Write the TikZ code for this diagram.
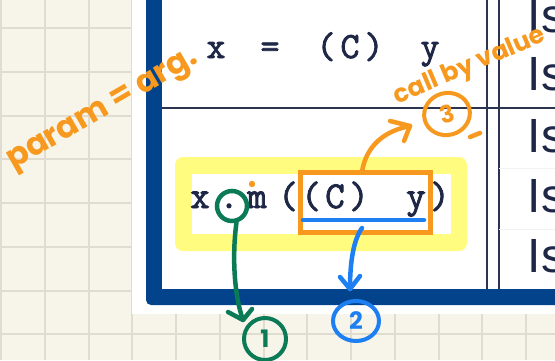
\documentclass[tikz,border=0pt]{standalone}
\usepackage{fontspec}
\usetikzlibrary{shapes.geometric,arrows.meta}
\newfontfamily\handfont{Poppins}
\newfontfamily\isfont{Liberation Sans}
\newfontfamily\codefont{Latin Modern Mono}[FakeBold=2.2]
\definecolor{paper}{HTML}{F7F5EA}
\definecolor{gridc}{HTML}{E0DDD0}
\definecolor{frameblue}{HTML}{03438C}
\definecolor{rulec}{HTML}{2B3550}
\definecolor{ink}{HTML}{1E2746}
\definecolor{hl}{HTML}{FFFC80}
\definecolor{orng}{HTML}{F7991F}
\definecolor{blu}{HTML}{1E7FF2}
\definecolor{grn}{HTML}{0B7A56}
\begin{document}
\begin{tikzpicture}[x=1pt,y=-1pt,
  codeA/.style={font=\codefont\fontsize{37}{37}\selectfont, text=ink, inner sep=0pt, anchor=base},
  codeB/.style={font=\codefont\fontsize{38}{38}\selectfont, text=ink, inner sep=0pt, anchor=base},
  iscell/.style={font=\isfont\fontsize{48}{48}\selectfont, text=ink, inner sep=0pt, anchor=base west},
  hand/.style={font=\handfont\bfseries\fontsize{#1}{#1}\selectfont, text=orng, inner sep=0pt},
  pen/.style={line width=4.5pt, line cap=round, line join=round},
  numring/.style={ellipse, draw=#1, line width=4pt, inner sep=0pt, text=#1,
    font=\handfont\bfseries\fontsize{24}{24}\selectfont}]
\useasboundingbox (0,0) rectangle (555,360);
\clip (0,0) rectangle (555,360);
% paper with grid
\fill[paper] (0,0) rectangle (555,360);
\foreach \i in {0,...,12} \draw[gridc, line width=2pt] (1+43.75*\i,0) -- ++(0,360);
\foreach \j in {0,...,8} \draw[gridc, line width=2pt] (0,-15.75+43.75*\j) -- ++(555,0);
% screenshot
\fill[white] (132,-10) rectangle (565,314);
\fill[frameblue, rounded corners=5pt] (146,-20) rectangle (575,305);
\fill[white] (162,-20) rectangle (575,289);
% table rules
\draw[rulec, line width=2pt] (162,108) -- (555,108);
\draw[rulec, line width=1.5pt] (487,0) -- (487,289);
\draw[rulec, line width=1.5pt] (499,0) -- (499,289);
\draw[black!5, line width=1pt] (499,168) -- (555,168);
\draw[black!5, line width=1pt] (499,229) -- (555,229);
% right column
\node[iscell] (is1) at (527.5,32) {Is};
\node[iscell] (is2) at (527.5,90) {Is};
\node[iscell] (is3) at (527.5,152) {Is};
\node[iscell] (is4) at (527.5,212) {Is};
\node[iscell] (is5) at (527.5,272) {Is};
% first code line
\node[codeA] (a1) at (216,58) {x};
\node[codeA] (a2) at (270,58) {=};
\node[codeA] (a3) at (326,58) {(};
\node[codeA] (a4) at (350,58) {C};
\node[codeA] (a5) at (374,58) {)};
\node[codeA] (a6) at (430,58) {y};
% highlight
\fill[hl, rounded corners=8pt] (175,157) rectangle (467,251);
\fill[white] (192,174) rectangle (451,234);
% second code line
\node[codeB] (b1) at (200,208) {x};
\node[codeB] (b2) at (229,208) {.};
\node[codeB] (b3) at (257,208) {m};
\node[codeB] (b4) at (288,208) {(};
\node[codeB] (b5) at (311,208) {(};
\node[codeB] (b6) at (335,208) {C};
\node[codeB] (b7) at (359,208) {)};
\node[codeB] (b8) at (416,208) {y};
\node[codeB] (b9) at (440,208) {)};
% orange box and marks
\node[draw=orng, line width=5pt, minimum width=130.5pt, minimum height=60pt, inner sep=0pt] (obox) at (365.25,202.5) {};
\fill[orng] (252,184) circle (3.2pt);
\coordinate (ostart) at (362,172);
\coordinate (otip) at (410,126);
\draw[orng, pen] (ostart) .. controls (366,146) and (384,131) .. (otip);
\draw[orng, pen] (390,121) -- (otip) -- (404,141);
\node[hand=32, rotate=30] (param) at (104,112) {param = arg.};
\node[hand=25, rotate=23] (cbv) at (470,67) {call by value};
\node[numring=orng, minimum width=46pt, minimum height=42pt, rotate=15] (three) at (447,114) {3};
\draw[orng, pen] (470,137) -- (480,133);
% blue underline and arrow
\draw[blu, pen] (303,220) -- (424,220);
\coordinate (bstart) at (362,228);
\coordinate (btip) at (350,289);
\draw[blu, pen] (bstart) .. controls (352,242) and (350,268) .. (btip);
\draw[blu, pen] (340,277) -- (btip) -- (360,276);
\node[numring=blu, minimum width=46pt, minimum height=40pt] (two) at (356,321) {2};
% green ring and arrow
\node[circle, draw=grn, line width=4.5pt, minimum size=30pt, inner sep=0pt] (gring) at (232,206) {};
\coordinate (gtip) at (243,320);
\draw[grn, pen] (gring.-75) .. controls (232,255) and (234,295) .. (gtip);
\draw[grn, pen] (228,312) -- (gtip) -- (252,309);
\node[numring=grn, minimum width=42pt, minimum height=42pt] (one) at (265,339) {1};
\end{tikzpicture}
\end{document}
